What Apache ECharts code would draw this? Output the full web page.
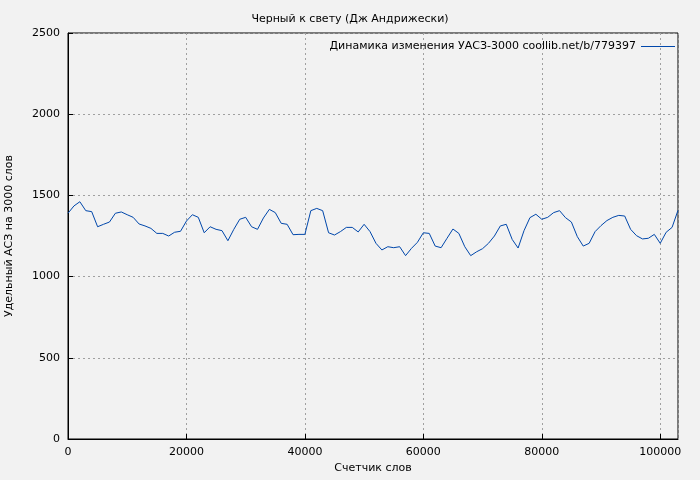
<!DOCTYPE html><html><head><meta charset="utf-8">
<script src="https://cdn.jsdelivr.net/npm/echarts@6/dist/echarts.min.js"></script>
<style>html,body{margin:0;background:#f2f2f2}#c{width:700px;height:480px}</style></head><body><div id="c"></div>
<script>
const words=[0,1000,2000,3000,4000,5000,6000,7000,8000,9000,10000,11000,12000,13000,14000,15000,16000,17000,18000,19000,20000,21000,22000,23000,24000,25000,26000,27000,28000,29000,30000,31000,32000,33000,34000,35000,36000,37000,38000,39000,40000,41000,42000,43000,44000,45000,46000,47000,48000,49000,50000,51000,52000,53000,54000,55000,56000,57000,58000,59000,60000,61000,62000,63000,64000,65000,66000,67000,68000,69000,70000,71000,72000,73000,74000,75000,76000,77000,78000,79000,80000,81000,82000,83000,84000,85000,86000,87000,88000,89000,90000,91000,92000,93000,94000,95000,96000,97000,98000,99000,100000,101000,102000,103000];
const values=[1390,1435,1461,1406,1400,1307,1322,1336,1390,1398,1381,1365,1324,1312,1297,1266,1266,1250,1273,1279,1342,1381,1365,1270,1307,1291,1283,1221,1291,1353,1365,1307,1291,1361,1414,1394,1328,1322,1258,1260,1260,1406,1420,1406,1270,1256,1277,1303,1303,1275,1322,1277,1205,1164,1184,1178,1184,1129,1174,1211,1270,1266,1188,1178,1236,1293,1266,1184,1129,1153,1172,1205,1250,1312,1322,1229,1176,1283,1363,1384,1353,1365,1394,1406,1363,1336,1246,1188,1205,1277,1314,1345,1365,1377,1373,1291,1252,1232,1236,1260,1205,1273,1303,1408];
const title='Черный к свету (Дж Андрижески)';
const seriesName='Динамика изменения УАСЗ-3000 coollib.net/b/779397';
const xName='Счетчик слов', yName='Удельный АСЗ на 3000 слов';
const font='DejaVu Sans';
const grid={show:true,lineStyle:{color:'#a0a0a0',type:[2,3],width:1}};
echarts.init(document.getElementById('c')).setOption({
 backgroundColor:'#f2f2f2',animation:false,
 textStyle:{fontFamily:font},
 title:{text:title,left:'center',top:9,textStyle:{fontSize:11,fontWeight:'normal',color:'#000',fontFamily:font}},
 legend:{right:20,top:36,align:'right',itemWidth:34,itemHeight:2,itemGap:6,
   icon:'path://M0,0H34V1H0Z',textStyle:{fontSize:11,color:'#000',fontFamily:font},data:[seriesName]},
 grid:{left:68,right:22,top:33,bottom:41,containLabel:false,outerBoundsMode:'none',show:true,borderColor:'#000',borderWidth:1,backgroundColor:'transparent'},
 xAxis:{type:'value',min:0,max:103000,interval:20000,name:xName,nameLocation:'middle',nameGap:22,
   nameTextStyle:{fontSize:11,color:'#000'},
   axisLine:{lineStyle:{color:'#000'}},axisTick:{inside:true,length:5,lineStyle:{color:'#000'}},
   axisLabel:{fontSize:11,color:'#000',showMaxLabel:false,formatter:v=>String(v)},splitLine:grid},
 yAxis:{type:'value',min:0,max:2500,interval:500,name:yName,nameLocation:'middle',nameGap:53,
   nameTextStyle:{fontSize:11,color:'#000'},
   axisLine:{show:true,lineStyle:{color:'#000'}},axisTick:{inside:true,length:5,lineStyle:{color:'#000'}},
   axisLabel:{fontSize:11,color:'#000',formatter:v=>String(v)},splitLine:grid},
 series:[{name:seriesName,type:'line',data:words.map((w,i)=>[w,values[i]]),showSymbol:false,
   lineStyle:{color:'#0047ab',width:1},itemStyle:{color:'#0047ab'}}]
});
</script></body></html>
